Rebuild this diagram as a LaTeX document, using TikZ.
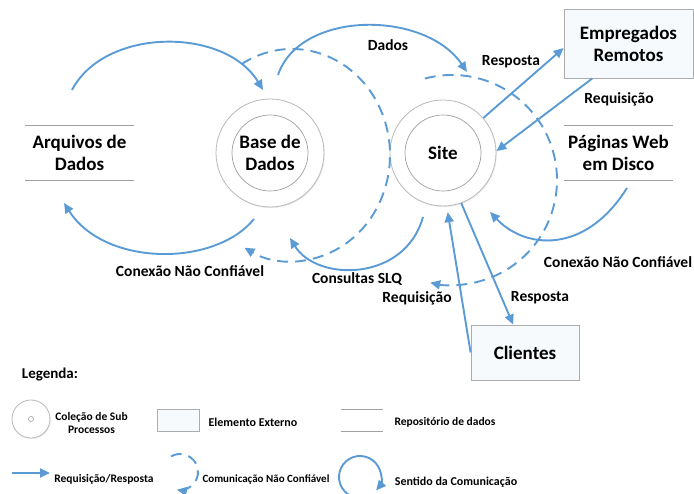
\documentclass[tikz,border=0pt]{standalone}
\usepackage{fontspec}
\setmainfont{Carlito}
\usetikzlibrary{arrows.meta,shadows,calc}
\definecolor{flow}{RGB}{91,155,213}
\definecolor{boxfill}{RGB}{247,250,253}
\definecolor{repline}{RGB}{160,160,160}
\begin{document}
\begin{tikzpicture}[x=1pt,y=1pt,
  flowline/.style={draw=flow, line width=1.9pt},
  arr/.style={-{Triangle[length=10pt,width=9pt]}},
  dashline/.style={flowline, dash pattern=on 11pt off 7pt},
  outerproc/.style={circle, draw=gray!55, line width=0.8pt, fill=white, inner sep=0pt,
     drop shadow={shadow xshift=0.8pt, shadow yshift=-1.2pt, opacity=0.15}},
  innerproc/.style={circle, draw=gray!75, line width=0.7pt, inner sep=0pt, align=center},
  mainlbl/.style={font=\fontsize{19}{22}\selectfont\bfseries, align=center},
  flowlbl/.style={font=\fontsize{15.5}{18}\selectfont\bfseries},
  leglbl/.style={font=\fontsize{11.5}{18}\selectfont\bfseries, align=center},
  extbox/.style={draw=gray!65, line width=0.8pt, fill=boxfill, inner sep=0pt,
     drop shadow={shadow xshift=1pt, shadow yshift=-1.5pt, opacity=0.15}},
  repo/.style={inner sep=0pt, align=center},
  repoline/.style={draw=repline, line width=0.8pt}
]
\useasboundingbox (0,0) rectangle (694,494);
\clip (0,0) rectangle (694,494);

% ---------- processes ----------
\node[outerproc, minimum size=108pt] (base) at (270,341) {};
\node[innerproc, minimum size=76pt, mainlbl] (baseIn) at (270,341) {Base de\\Dados};
\node[outerproc, minimum size=106pt] (site) at (443,341) {};
\node[innerproc, minimum size=76pt, mainlbl] (siteIn) at (443,341) {Site};

% ---------- external elements ----------
\node[extbox, minimum width=129pt, minimum height=69pt, mainlbl] (emp) at (628.5,450.5) {Empregados\\Remotos};
\node[extbox, minimum width=108pt, minimum height=55pt, mainlbl] (cli) at (525,141.5) {Clientes};

% ---------- repositories ----------
\node[repo, minimum width=109pt, minimum height=54pt, mainlbl] (arq) at (79.5,341) {Arquivos de\\Dados};
\draw[repoline] (arq.north west) -- (arq.north east);
\draw[repoline] (arq.south west) -- (arq.south east);
\node[repo, minimum width=109pt, minimum height=54pt, mainlbl] (pag) at (618.5,341) {Páginas Web\\em Disco};
\draw[repoline] (pag.north west) -- (pag.north east);
\draw[repoline] (pag.south west) -- (pag.south east);

% ---------- free end points ----------
\coordinate (a1) at (72,404);
\coordinate (a2) at (263,404);
\coordinate (b1) at (254,275);
\coordinate (b2) at (64,291);
\coordinate (d1) at (278,419);
\coordinate (d2) at (467,422);
\coordinate (q1) at (423,277);
\coordinate (q2) at (290,256);
\coordinate (p1) at (627,306);
\coordinate (p2) at (490,282);
\coordinate (bdc) at (292,339);
\coordinate (sdc) at (452,314);

% ---------- unreliable connections (dashed) ----------
\draw[dashline, arr] ([shift={(121:98 and 106)}]bdc) arc[start angle=121, end angle=-119, x radius=98, y radius=106];
\draw[dashline, arr] ([shift={(105:105 and 105)}]sdc) arc[start angle=105, end angle=-102, x radius=105, y radius=105];

% ---------- flows ----------
\draw[flowline, arr] (a1) .. controls (105,467) and (225,467) .. (a2);
\draw[flowline, arr] (b1) .. controls (215,227) and (105,227) .. (b2);
\draw[flowline, arr] (d1) .. controls (300,484) and (425,484) .. (d2);
\draw[flowline, arr] (q1) .. controls (405,212) and (317,212) .. (q2);
\draw[flowline, arr] (p1) .. controls (585,239) and (525,245) .. (p2);
\draw[flowline, arr] (site.41) -- (emp.184);
\draw[flowline, arr] (emp.224) -- (site.2);
\draw[flowline, arr, shorten >=6pt] (cli.west) -- (site.274);
\draw[flowline, arr] (site.-70) -- (cli.113);

% ---------- flow labels ----------
\node[flowlbl] (lDados) at (388,449) {Dados};
\node[flowlbl] (lResp1) at (511,432) {Resposta};
\node[flowlbl] (lReq1) at (619,395) {Requisição};
\node[flowlbl] (lCon1) at (190,223) {Conexão Não Confiável};
\node[flowlbl] (lCons) at (357,215) {Consultas SLQ};
\node[flowlbl] (lReq2) at (417,196) {Requisição};
\node[flowlbl] (lResp2) at (540,196) {Resposta};
\node[flowlbl] (lCon2) at (618,232) {Conexão Não Confiável};

% ---------- legend ----------
\node[font=\fontsize{15}{18}\selectfont\bfseries] (leg) at (50,119) {Legenda:};
\node[outerproc, minimum size=38pt] (lgP) at (31,75) {};
\node[circle, draw=gray!75, line width=0.6pt, minimum size=5pt, inner sep=0pt] (lgPi) at (31,75) {};
\node[leglbl, font=\fontsize{11.5}{13}\selectfont\bfseries] (lgPt) at (91.5,70.5) {Coleção de Sub\\Processos};
\node[extbox, minimum width=42pt, minimum height=22pt] (lgE) at (178,74) {};
\node[leglbl, font=\fontsize{12}{18}\selectfont\bfseries] (lgEt) at (253,72) {Elemento Externo};
\node[repo, minimum width=42pt, minimum height=21pt] (lgR) at (362,73.5) {};
\draw[repoline] (lgR.north west) -- (lgR.north east);
\draw[repoline] (lgR.south west) -- (lgR.south east);
\node[leglbl] (lgRt) at (445,72) {Repositório de dados};
\coordinate (lgA1) at (12,21);
\coordinate (lgA2) at (50,21);
\draw[flowline, arr] (lgA1) -- (lgA2);
\node[leglbl] (lgAt) at (104,15) {Requisição/Resposta};
\coordinate (lgDc) at (180,22);
\draw[dashline, arr] ([shift={(120:18)}]lgDc) arc[start angle=120, end angle=-100, radius=18];
\node[leglbl, font=\fontsize{11}{18}\selectfont\bfseries] (lgDt) at (266,14) {Comunicação Não Confiável};
\coordinate (lgSc) at (360,17);
\draw[flowline, arr] ([shift={(300:21)}]lgSc) arc[start angle=300, end angle=-40, radius=21];
\node[leglbl, font=\fontsize{12}{18}\selectfont\bfseries] (lgSt) at (456,12) {Sentido da Comunicação};
\end{tikzpicture}
\end{document}
